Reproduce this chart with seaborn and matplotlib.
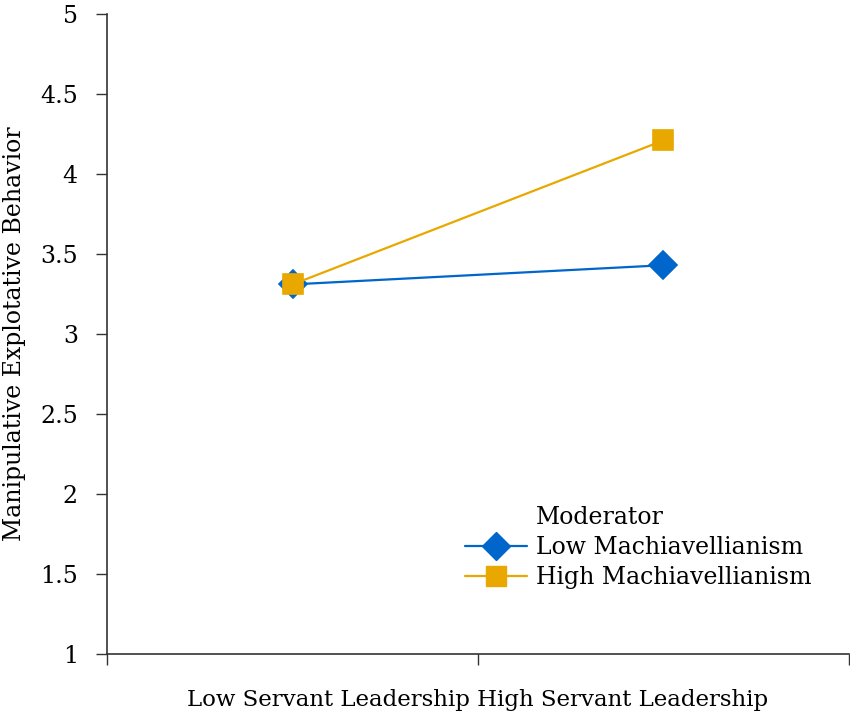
import matplotlib
matplotlib.use("Agg")
import matplotlib.pyplot as plt
from matplotlib.lines import Line2D
import pandas as pd
import seaborn as sns

# Chart data
leadership = ["Low Servant Leadership", "High Servant Leadership"]
low_mach = [3.31, 3.43]
high_mach = [3.31, 4.21]
moderators = ["Low Machiavellianism", "High Machiavellianism"]
y_ticks = [1, 1.5, 2, 2.5, 3, 3.5, 4, 4.5, 5]
y_tick_labels = ["1", "1.5", "2", "2.5", "3", "3.5", "4", "4.5", "5"]

df = pd.DataFrame({
    "leadership": leadership * 2,
    "value": low_mach + high_mach,
    "moderator": [moderators[0]] * 2 + [moderators[1]] * 2,
})

sns.set_style("white", {"text.color": "black", "axes.labelcolor": "black",
                        "ytick.color": "black", "xtick.color": "black"})
plt.rcParams["font.family"] = ["DejaVu Serif"]
FS = 17

fig = plt.figure(figsize=(8.5, 7.15), dpi=100)
ax = fig.add_axes([0.1259, 0.0853, 0.8729, 0.8951])

colors = {"Low Machiavellianism": "#0066CC", "High Machiavellianism": "#E8A800"}
sns.pointplot(data=df, x="leadership", y="value", hue="moderator",
              hue_order=moderators, order=leadership, palette=colors,
              markers=["D", "s"], linestyles=["-", "-"], linewidth=1.6,
              markersize=14, errorbar=None, ax=ax)

# square a bit bigger than the diamond, as in the reference
for line in ax.lines:
    if line.get_marker() == "s":
        line.set_markersize(15)

ax.set_xlim(-0.5, 1.5)
ax.set_ylim(1, 5)
ax.set_xticks([-0.5, 0.5, 1.5])
ax.set_xticklabels([])
ax.set_yticks(y_ticks)
ax.set_yticklabels(y_tick_labels, fontsize=FS, color="black")
ax.tick_params(axis="both", direction="out", length=8, width=1, color="#333333",
               left=True, bottom=True)
ax.tick_params(axis="y", pad=13)
ax.tick_params(axis="x", pad=0)

ax.set_xlabel(" ".join(leadership), fontsize=16.5, labelpad=17, color="black")
ax.set_ylabel("Manipulative Explotative Behavior", fontsize=FS, labelpad=10,
              color="black")

for side in ["top", "right"]:
    ax.spines[side].set_visible(False)
for side in ["left", "bottom"]:
    ax.spines[side].set_color("#333333")
    ax.spines[side].set_linewidth(1.2)

# legend: title as first row so it lines up with the labels
ax.get_legend().remove()
handles = [Line2D([], [], color="none", label="Moderator")]
for m, mk, ms in zip(moderators, ["D", "s"], [14, 15]):
    handles.append(Line2D([], [], color=colors[m], marker=mk, markersize=ms,
                          linewidth=1.6, label=m))
leg = ax.legend(handles=handles, loc="upper left", bbox_to_anchor=(0.47, 0.246),
                frameon=False, fontsize=FS, handlelength=2.6, handletextpad=0.4,
                labelspacing=0.3, borderaxespad=0)
for t in leg.get_texts():
    t.set_color("black")

fig.savefig("out.png", dpi=100)
